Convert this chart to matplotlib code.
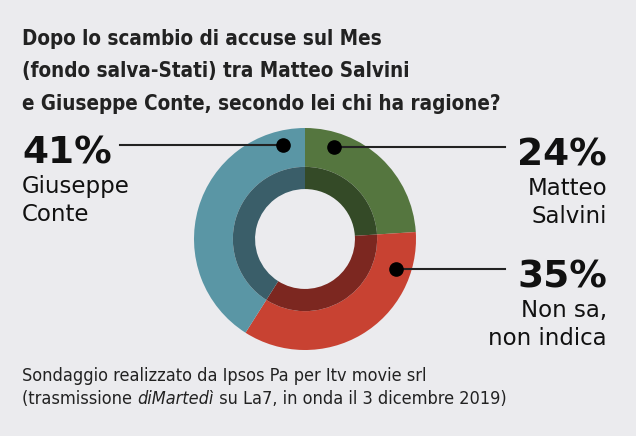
import numpy as np
import matplotlib.pyplot as plt

# dati del sondaggio
labels = ["Matteo\nSalvini", "Non sa,\nnon indica", "Giuseppe\nConte"]
values = [24, 35, 41]
outer_colors = ["#55763f", "#c84232", "#5a96a5"]
inner_colors = ["#344a27", "#7c2720", "#3a5e69"]

title_lines = ["Dopo lo scambio di accuse sul Mes",
               "(fondo salva-Stati) tra Matteo Salvini",
               "e Giuseppe Conte, secondo lei chi ha ragione?"]
bg = "#ebebee"

W, H = 636, 436
fig = plt.figure(figsize=(W / 100, H / 100), dpi=100, facecolor=bg)

# ciambella
cx, cy, R = 305, 239, 111
pax = fig.add_axes([(cx - R) / W, (H - cy - R) / H, 2 * R / W, 2 * R / H])
pax.pie(values, colors=outer_colors, radius=1, startangle=90, counterclock=False,
        wedgeprops=dict(width=0.35, linewidth=0))
pax.pie(values, colors=inner_colors, radius=0.65, startangle=90, counterclock=False,
        wedgeprops=dict(width=0.20, linewidth=0))
pax.set_xlim(-1, 1)
pax.set_ylim(-1, 1)
pax.set_aspect("equal")
pax.axis("off")

# assi in pixel (y verso il basso), sopra la ciambella
ax = fig.add_axes([0, 0, 1, 1])
ax.set_xlim(0, W)
ax.set_ylim(H, 0)
ax.axis("off")
ax.patch.set_visible(False)
ax.set_zorder(3)

# titolo
for i, line in enumerate(title_lines):
    ax.text(22, 45 + 32.5 * i, line, fontsize=14.8, fontweight="bold", family="DejaVu Sans",
            fontstretch="condensed", color="#222222", va="baseline")

num_font = dict(family="DejaVu Sans", fontweight="bold", fontsize=27, color="#111111", va="baseline")
lab_font = dict(family="DejaVu Sans", fontsize=16.5, color="#111111", va="baseline")

# etichette: angolo del punto (da nord, senso orario), lato
anchors = [(17.5, "right"), (108.5, "right"), (-13, "left")]
rd = 96
for (ang, side), lab, v in zip(anchors, labels, values):
    a = np.radians(ang)
    px, py = cx + rd * np.sin(a), cy - rd * np.cos(a)
    ax.plot(px, py, "o", color="black", markersize=9.5, zorder=5)
    if side == "right":
        ax.plot([px, 505], [py, py], color="#222222", lw=1.5, zorder=4)
        tx, ha = 607, "right"
    else:
        ax.plot([120, px], [py, py], color="#222222", lw=1.5, zorder=4)
        tx, ha = 22, "left"
    ax.text(tx, py + 18, f"{v}%", ha=ha, **num_font)
    l1, l2 = lab.split("\n")
    ax.text(tx, py + 48, l1, ha=ha, **lab_font)
    ax.text(tx, py + 76, l2, ha=ha, **lab_font)

# fonte
foot_font = dict(family="DejaVu Sans", fontstretch="condensed", fontsize=13,
                 color="#222222", va="baseline")
ax.text(22, 381, "Sondaggio realizzato da Ipsos Pa per Itv movie srl", **foot_font)
t1 = ax.text(22, 404, "(trasmissione ", **foot_font)
fig.canvas.draw()
x1 = ax.transData.inverted().transform((t1.get_window_extent().x1, 0))[0]
t2 = ax.text(x1, 404, "diMartedì", style="italic", **foot_font)
fig.canvas.draw()
x2 = ax.transData.inverted().transform((t2.get_window_extent().x1, 0))[0]
ax.text(x2, 404, " su La7, in onda il 3 dicembre 2019)", **foot_font)

fig.savefig("out.png", dpi=100, facecolor=bg)
